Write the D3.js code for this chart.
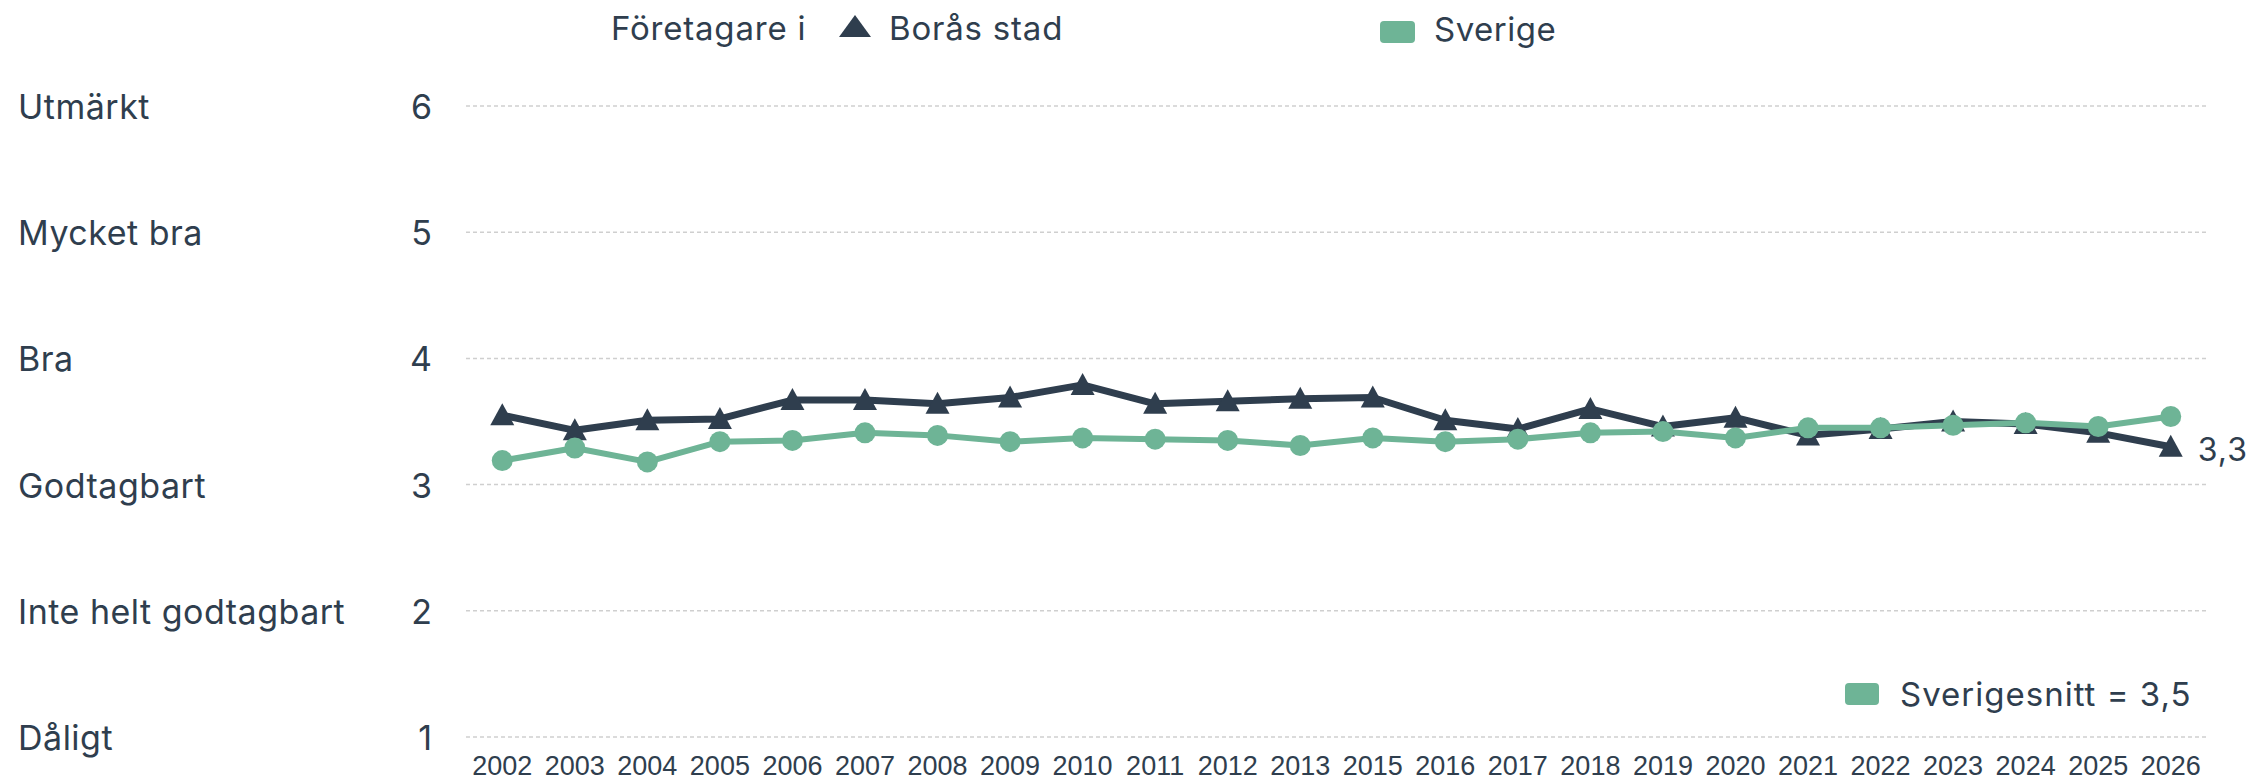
<!DOCTYPE html>
<html>
<head>
<meta charset="utf-8">
<script src="https://d3js.org/d3.v7.min.js"></script>
<style>
  body { margin: 0; background: #fff; }
  text { font-family: Inter, "Noto Sans", sans-serif; fill: #2f3e4e; }
  .year { font-family: "Liberation Sans", Arial, sans-serif; }
</style>
</head>
<body>
<div id="chartHere"></div>
<script>
// categories (2014 saknas i serien)
var years = ['2002','2003','2004','2005','2006','2007','2008','2009','2010','2011','2012','2013',
             '2015','2016','2017','2018','2019','2020','2021','2022','2023','2024','2025','2026'];
var boras = [3.55,3.43,3.51,3.52,3.67,3.67,3.64,3.69,3.79,3.64,3.66,3.68,
             3.69,3.51,3.44,3.60,3.46,3.53,3.39,3.44,3.50,3.48,3.41,3.30];
var sverige = [3.19,3.29,3.18,3.34,3.35,3.41,3.39,3.34,3.37,3.36,3.35,3.31,
               3.37,3.34,3.36,3.41,3.42,3.37,3.45,3.45,3.47,3.49,3.46,3.54];
var yTicks = [1,2,3,4,5,6];
var gradeLabels = ['Dåligt','Inte helt godtagbart','Godtagbart','Bra','Mycket bra','Utmärkt'];
var lastLabel = '3,3';
var avgLabel = 'Sverigesnitt = 3,5';

var dark = '#2f3e4e', green = '#6eb496';
var W = 2257, H = 781;

var svg = d3.select('#chartHere').append('svg')
    .attr('width', W).attr('height', H);

var x = d3.scalePoint().domain(years).range([466, 2207]).padding(0.5);
var y = d3.scaleLinear().domain([1, 6]).range([737, 106]);

// grid
svg.selectAll('line.grid').data(yTicks).enter().append('line')
    .attr('class', 'grid')
    .attr('x1', 466).attr('x2', 2208)
    .attr('y1', function(d) { return y(d); })
    .attr('y2', function(d) { return y(d); })
    .attr('stroke', '#cfcfcf').attr('stroke-width', 1.5)
    .attr('stroke-dasharray', '4,3');

// y tick numbers
svg.selectAll('text.ytick').data(yTicks).enter().append('text')
    .attr('class', 'ytick')
    .attr('x', 432).attr('y', function(d) { return y(d) + 13; })
    .attr('text-anchor', 'end')
    .attr('font-size', 34)
    .text(function(d) { return d; });

// left grade labels
svg.selectAll('text.grade').data(yTicks).enter().append('text')
    .attr('class', 'grade')
    .attr('x', 18).attr('y', function(d) { return y(d) + 13; })
    .attr('font-size', 34)
    .attr('letter-spacing', 0.5)
    .text(function(d, i) { return gradeLabels[i]; });

// x axis labels
svg.selectAll('text.year').data(years).enter().append('text')
    .attr('class', 'year')
    .attr('x', function(d) { return x(d); })
    .attr('y', 775)
    .attr('text-anchor', 'middle')
    .attr('font-size', 27)
    .text(function(d) { return d; });

var line = d3.line()
    .x(function(d, i) { return x(years[i]); })
    .y(function(d) { return y(d); });

// Borås stad
svg.append('path').datum(boras)
    .attr('d', line).attr('fill', 'none')
    .attr('stroke', dark).attr('stroke-width', 7).attr('stroke-linejoin', 'round');

var tri = 'M0,-12L12,10L-12,10Z';
svg.selectAll('path.tri').data(boras).enter().append('path')
    .attr('class', 'tri')
    .attr('d', tri)
    .attr('transform', function(d, i) { return 'translate(' + x(years[i]) + ',' + y(d) + ')'; })
    .attr('fill', dark);

// Sverige
svg.append('path').datum(sverige)
    .attr('d', line).attr('fill', 'none')
    .attr('stroke', green).attr('stroke-width', 6).attr('stroke-linejoin', 'round');

svg.selectAll('circle.sv').data(sverige).enter().append('circle')
    .attr('class', 'sv')
    .attr('cx', function(d, i) { return x(years[i]); })
    .attr('cy', function(d) { return y(d); })
    .attr('r', 10.5)
    .attr('fill', green);

// end label
var lastI = boras.length - 1;
svg.append('text')
    .attr('x', x(years[lastI]) + 27)
    .attr('y', y(boras[lastI]) + 14)
    .attr('font-size', 32)
    .attr('letter-spacing', 1)
    .text(lastLabel);

// top legend
svg.append('text').attr('x', 611).attr('y', 40).attr('font-size', 33)
    .attr('letter-spacing', 0.8).text('Företagare i');
svg.append('path').attr('d', 'M855,15L871,37L839,37Z').attr('fill', dark);
svg.append('text').attr('x', 889).attr('y', 40).attr('font-size', 33)
    .attr('letter-spacing', 0.8).text('Borås stad');
svg.append('rect').attr('x', 1380).attr('y', 21).attr('width', 35).attr('height', 22)
    .attr('rx', 4).attr('fill', green);
svg.append('text').attr('x', 1434).attr('y', 41).attr('font-size', 33)
    .attr('letter-spacing', 0.5).text('Sverige');

// bottom legend
svg.append('rect').attr('x', 1845).attr('y', 683).attr('width', 34).attr('height', 22)
    .attr('rx', 4).attr('fill', green);
svg.append('text').attr('x', 1900).attr('y', 706).attr('font-size', 33)
    .attr('letter-spacing', 1).text(avgLabel);
</script>
</body>
</html>
